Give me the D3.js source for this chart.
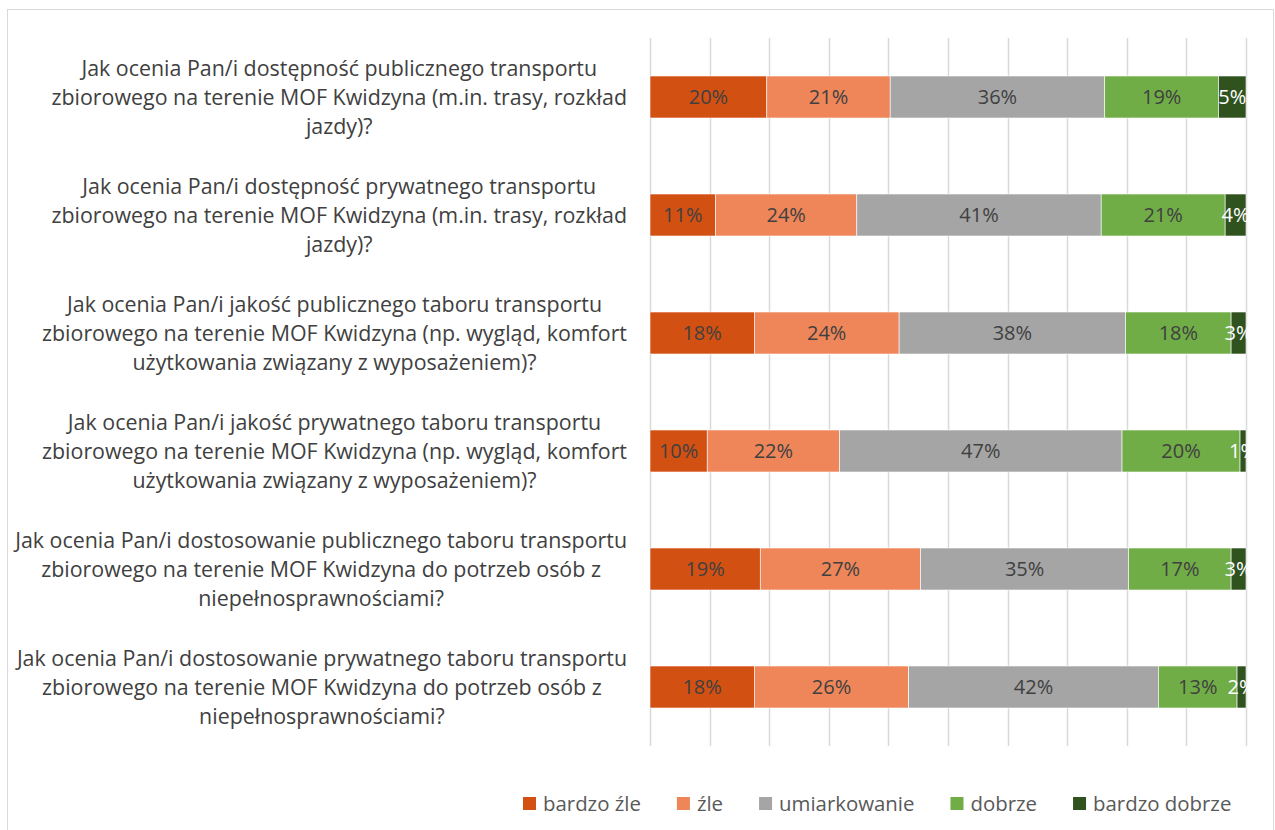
<!DOCTYPE html>
<html>
<head>
<meta charset="utf-8">
<script src="https://cdn.jsdelivr.net/npm/d3@7"></script>
<style>
  html, body { margin: 0; padding: 0; background: #fff; }
  svg { display: block; font-family: "Open Sans", Lato, sans-serif; }
</style>
</head>
<body>
<svg id="chart" width="1275" height="830"></svg>
<script>
// category labels, already wrapped the way the chart shows them
const questions = [
  ['Jak ocenia Pan/i dostępność publicznego transportu',
   'zbiorowego na terenie MOF Kwidzyna (m.in. trasy, rozkład',
   'jazdy)?'],
  ['Jak ocenia Pan/i dostępność prywatnego transportu',
   'zbiorowego na terenie MOF Kwidzyna (m.in. trasy, rozkład',
   'jazdy)?'],
  ['Jak ocenia Pan/i jakość publicznego taboru transportu',
   'zbiorowego na terenie MOF Kwidzyna (np. wygląd, komfort',
   'użytkowania związany z wyposażeniem)?'],
  ['Jak ocenia Pan/i jakość prywatnego taboru transportu',
   'zbiorowego na terenie MOF Kwidzyna (np. wygląd, komfort',
   'użytkowania związany z wyposażeniem)?'],
  ['Jak ocenia Pan/i dostosowanie publicznego taboru transportu',
   'zbiorowego na terenie MOF Kwidzyna do potrzeb osób z',
   'niepełnosprawnościami?'],
  ['Jak ocenia Pan/i dostosowanie prywatnego taboru transportu',
   'zbiorowego na terenie MOF Kwidzyna do potrzeb osób z',
   'niepełnosprawnościami?']
];

const seriesNames = ['bardzo źle', 'źle', 'umiarkowanie', 'dobrze', 'bardzo dobrze'];
const seriesColors = ['#D35013', '#EE8659', '#A5A5A5', '#70AD47', '#30521F'];

// percentages per question (top to bottom)
const bardzoZle    = [19.6, 11.0, 17.5,  9.6, 18.5, 17.5];
const zle          = [20.7, 23.7, 24.3, 22.2, 26.9, 25.9];
const umiarkowanie = [36.0, 41.0, 38.0, 47.4, 34.9, 41.9];
const dobrze       = [19.1, 20.8, 17.7, 19.8, 17.2, 13.2];
const bardzoDobrze = [ 4.6,  3.5,  2.5,  1.0,  2.5,  1.5];

const xTicks = [0, 10, 20, 30, 40, 50, 60, 70, 80, 90, 100];

const values = [bardzoZle, zle, umiarkowanie, dobrze, bardzoDobrze];
const rows = questions.map((q, i) => {
  const r = { id: i };
  seriesNames.forEach((s, k) => { r[s] = values[k][i]; });
  return r;
});

const svg = d3.select('#chart');

// chart frame
svg.append('rect')
  .attr('x', 7.5).attr('y', 9.5)
  .attr('width', 1266).attr('height', 840)
  .attr('fill', 'none')
  .attr('stroke', '#D9D9D9');

const x = d3.scaleLinear().domain([0, 100]).range([650, 1246]);
const y = d3.scaleBand()
  .domain(rows.map(d => d.id))
  .range([38, 746])
  .paddingInner(0.644)
  .paddingOuter(0.322);

// gridlines
svg.append('g')
  .selectAll('line')
  .data(xTicks)
  .join('line')
  .attr('x1', d => Math.round(x(d)) + 0.5)
  .attr('x2', d => Math.round(x(d)) + 0.5)
  .attr('y1', 38)
  .attr('y2', 746)
  .attr('stroke', '#D9D9D9')
  .attr('stroke-width', 1.5);

const stack = d3.stack().keys(seriesNames)(rows);

const layer = svg.append('g')
  .selectAll('g')
  .data(stack)
  .join('g')
  .attr('fill', (d, i) => seriesColors[i]);

layer.selectAll('rect')
  .data(d => d)
  .join('rect')
  .attr('x', d => x(d[0]))
  .attr('y', d => y(d.data.id))
  .attr('width', d => x(d[1]) - x(d[0]))
  .attr('height', y.bandwidth())
  .attr('stroke', '#fff')
  .attr('stroke-width', 0.6);

// data labels
stack.forEach((s, k) => {
  svg.append('g')
    .selectAll('text')
    .data(s)
    .join('text')
    .attr('x', d => (x(d[0]) + x(d[1])) / 2)
    .attr('y', d => y(d.data.id) + y.bandwidth() / 2)
    .attr('dy', '0.36em')
    .attr('text-anchor', 'middle')
    .attr('font-size', 20)
    .attr('fill', k === 4 ? '#FFFFFF' : '#404040')
    .text(d => Math.round(d[1] - d[0]) + '%');
});

// category labels: lines centred on the widest one, block right-aligned
const labelRight = 627;
const lineH = 29;
const cat = svg.append('g')
  .selectAll('g')
  .data(questions)
  .join('g');

cat.each(function (lines, i) {
  const g = d3.select(this);
  const cy = y(i) + y.bandwidth() / 2;
  const texts = g.selectAll('text')
    .data(lines)
    .join('text')
    .attr('font-size', 21.4)
    .attr('fill', '#404040')
    .attr('text-anchor', 'middle')
    .attr('y', (d, j) => cy + (j - (lines.length - 1) / 2) * lineH)
    .attr('dy', '0.36em')
    .text(d => d);
  let maxW = 0;
  texts.each(function () { maxW = Math.max(maxW, this.getComputedTextLength()); });
  texts.attr('x', labelRight - maxW / 2);
});

// legend, items laid out one after another
const legend = svg.append('g')
  .selectAll('g')
  .data(seriesNames)
  .join('g');

legend.append('rect')
  .attr('x', 0).attr('y', -7)
  .attr('width', 13).attr('height', 13)
  .attr('fill', (d, i) => seriesColors[i]);

legend.append('text')
  .attr('x', 20)
  .attr('dy', '0.36em')
  .attr('font-size', 20.4)
  .attr('fill', '#595959')
  .text(d => d);

let lx = 523;
legend.each(function () {
  const g = d3.select(this);
  g.attr('transform', `translate(${lx},804)`);
  lx += 20 + g.select('text').node().getComputedTextLength() + 36;
});
</script>
</body>
</html>
